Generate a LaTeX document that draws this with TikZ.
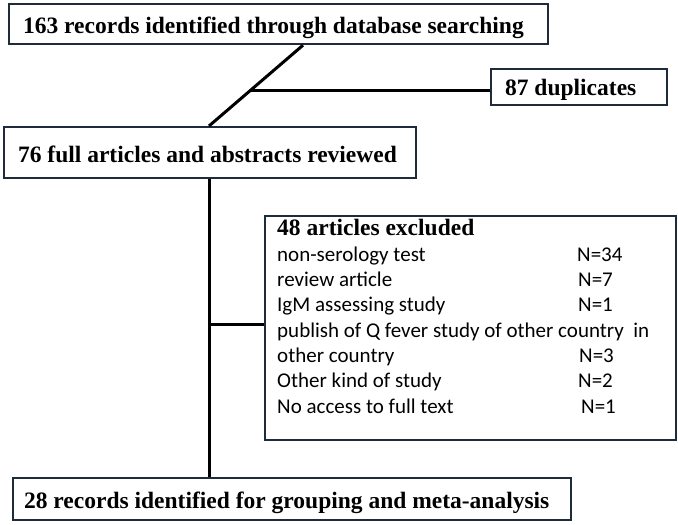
\documentclass[tikz,border=0pt]{standalone}
\usepackage{fontspec}
\setmainfont{Liberation Serif}
\newfontfamily\lfont{Carlito}
\usetikzlibrary{calc}
\definecolor{boxc}{HTML}{1E2B3A}
\begin{document}
\begin{tikzpicture}[x=1pt,y=-1pt,
  box/.style={draw=boxc, line width=2.2pt, fill=white, anchor=north west, inner ysep=0pt, text height=18pt, text depth=0pt, font=\fontsize{23.5}{28}\selectfont\bfseries},
  conn/.style={line width=3pt, draw=black},
  item/.style={anchor=base west, inner sep=0pt, font=\lfont\fontsize{21}{25}\selectfont},
  head/.style={anchor=base west, inner sep=0pt, font=\fontsize{23.5}{28}\selectfont\bfseries}]
\useasboundingbox[fill=white] (0,0) rectangle (678,525);
% boxes
\node[box, minimum width=539pt, minimum height=40pt, inner xsep=14pt] (b1) at (8,3) {\makebox[511pt][l]{163 records identified through database searching}};
\node[box, minimum width=176pt, minimum height=36pt, inner xsep=14pt, text height=16pt] (dup) at (490,68) {\makebox[148pt][l]{87 duplicates}};
\node[box, minimum width=412pt, minimum height=51pt, inner xsep=14pt, text height=19pt] (b2) at (3,126) {\makebox[384pt][l]{76 full articles and abstracts reviewed}};
\node[draw=boxc, line width=2.2pt, fill=white, anchor=north west, minimum width=411pt, minimum height=224pt, inner sep=0pt] (excl) at (264,215) {};
\node[box, minimum width=558pt, minimum height=42pt, inner xsep=11pt] (b3) at (12,477) {\makebox[536pt][l]{28 records identified for grouping and meta-analysis}};
% exclusion contents
\node[head] (eh) at (277,235) {48 articles excluded};
\node[item] (e1) at (277,261.3) {non-serology test};
\node[item] (n1) at (577,261.3) {N=34};
\node[item] (e2) at (277,286.6) {review article};
\node[item] (n2) at (578,286.6) {N=7};
\node[item] (e3) at (277,311.9) {IgM assessing study};
\node[item] (n3) at (578,311.9) {N=1};
\node[item] (e4) at (277,337.2) {publish of Q fever study of other country\ \ in};
\node[item] (e5) at (277,362.5) {other country};
\node[item] (n5) at (579,362.5) {N=3};
\node[item] (e6) at (277,387.8) {Other kind of study};
\node[item] (n6) at (578,387.8) {N=2};
\node[item] (e7) at (277,413.1) {No access to full text};
\node[item] (n7) at (581,413.1) {N=1};
% connectors
\coordinate (dtop) at ([xshift=295pt]b1.south west);
\coordinate (dbot) at ([xshift=206pt]b2.north west);
\draw[conn] (dtop) -- (dbot);
\coordinate (junc) at ($(dtop)!0.556!(dbot)$);
\draw[conn] (junc) -- (junc -| dup.west);
\coordinate (vtop) at ([xshift=206pt]b2.south west);
\draw[conn] (vtop) -- (vtop |- b3.north);
\coordinate (eb) at ([yshift=4pt]excl.west);
\draw[conn] (vtop |- eb) -- (eb);
\end{tikzpicture}
\end{document}
